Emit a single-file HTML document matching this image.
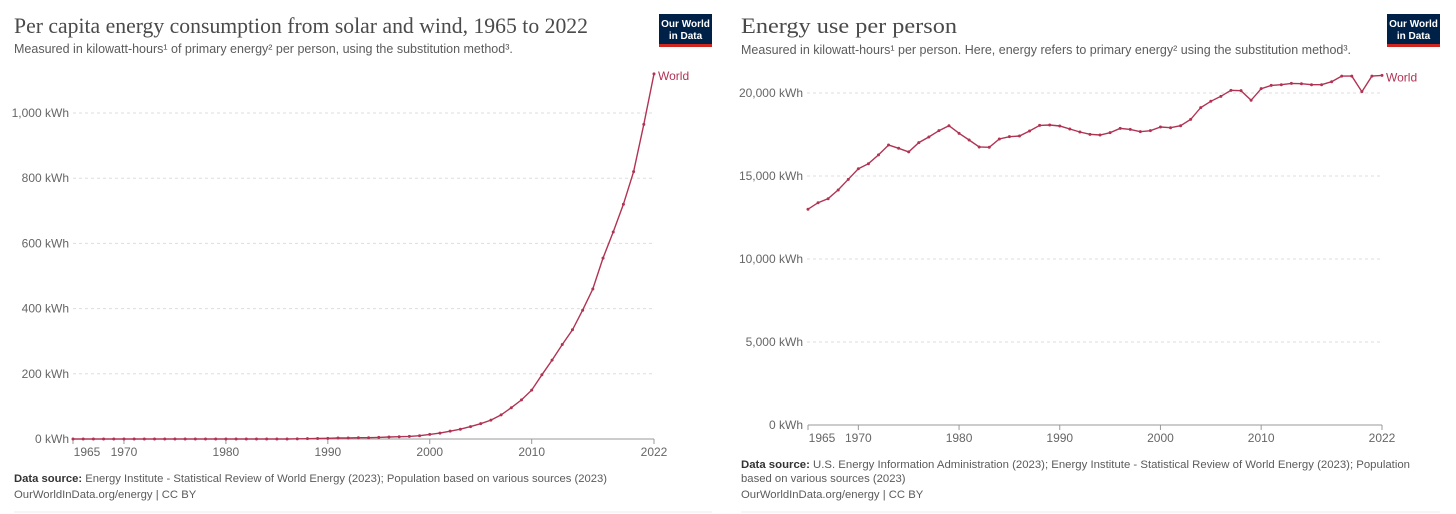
<!DOCTYPE html>
<html><head><meta charset="utf-8"><style>
body{margin:0;background:#fff;width:1456px;height:514px;overflow:hidden}
svg{display:block;font-family:"Liberation Sans",sans-serif}
.t{font-family:"Liberation Serif",serif;font-size:22px;fill:#4a4a4a}
.s{font-size:12.5px;fill:#5b5b5b}
.tk{font-size:12px;fill:#666}
.f{font-size:11.3px;fill:#5b5b5b}
.g{stroke:#ddd;stroke-dasharray:3,3;stroke-width:1}
</style></head><body>
<svg id="c" width="1456" height="514">
<g>
<text class="t" x="14" y="33" textLength="574" lengthAdjust="spacingAndGlyphs">Per capita energy consumption from solar and wind, 1965 to 2022</text>
<text class="s" x="14" y="53">Measured in kilowatt-hours¹ of primary energy² per person, using the substitution method³.</text>
<g><rect x="659" y="14" width="53" height="30" fill="#002147"/><rect x="659" y="44" width="53" height="3" fill="#ce261e"/>
<text x="685.5" y="27" text-anchor="middle" font-size="10" font-weight="bold" fill="#fff">Our World</text><text x="685.5" y="39" text-anchor="middle" font-size="10" font-weight="bold" fill="#fff">in Data</text></g>
<g id="L"></g>
<text class="f" x="14" y="482" textLength="593" lengthAdjust="spacingAndGlyphs"><tspan font-weight="bold" fill="#333">Data source:</tspan> Energy Institute - Statistical Review of World Energy (2023); Population based on various sources (2023)</text>
<text class="f" x="14" y="498">OurWorldInData.org/energy | CC BY</text>
<line x1="14" y1="512" x2="712" y2="512" stroke="#eee"/>
</g>
<g>
<text class="t" x="741" y="33" textLength="216" lengthAdjust="spacingAndGlyphs">Energy use per person</text>
<text class="s" x="741" y="54">Measured in kilowatt-hours¹ per person. Here, energy refers to primary energy² using the substitution method³.</text>
<g><rect x="1387" y="14" width="53" height="30" fill="#002147"/><rect x="1387" y="44" width="53" height="3" fill="#ce261e"/>
<text x="1413.5" y="27" text-anchor="middle" font-size="10" font-weight="bold" fill="#fff">Our World</text><text x="1413.5" y="39" text-anchor="middle" font-size="10" font-weight="bold" fill="#fff">in Data</text></g>
<g id="R"></g>
<text class="f" x="741" y="468" textLength="669" lengthAdjust="spacingAndGlyphs"><tspan font-weight="bold" fill="#333">Data source:</tspan> U.S. Energy Information Administration (2023); Energy Institute - Statistical Review of World Energy (2023); Population</text>
<text class="f" x="741" y="482">based on various sources (2023)</text>
<text class="f" x="741" y="498">OurWorldInData.org/energy | CC BY</text>
<line x1="741" y1="512" x2="1440" y2="512" stroke="#eee"/>
</g>
</svg>
<script>
const years=[];for(let y=1965;y<=2022;y++)years.push(y);
const solarWind=[0,0,0,0,0,0,0,0,0,0,0,0,0,0,0,0,0,0,0,0,0,0,0.5,1,1.5,2,3,3,4,4,5,6,7,8,10,14,18,24,30,38,47,58,74,96,120,150,197,242,290,335,395,460,555,635,720,820,965,1120];
const energyUse=[13000,13390,13630,14160,14800,15440,15740,16270,16870,16670,16450,17010,17350,17730,18030,17570,17170,16750,16730,17230,17370,17410,17710,18050,18070,18010,17830,17650,17510,17470,17610,17870,17810,17670,17730,17950,17910,18030,18410,19120,19500,19800,20160,20140,19560,20260,20460,20500,20580,20560,20500,20500,20680,21020,21020,20080,21020,21060];
const leftTicks=[0,200,400,600,800,1000];
const rightTicks=[0,5000,10000,15000,20000];
const xTicks=[1965,1970,1980,1990,2000,2010,2022];
const NS='http://www.w3.org/2000/svg';
function mk(p,t,a){const e=document.createElementNS(NS,t);for(const k in a)e.setAttribute(k,a[k]);p.appendChild(e);return e;}
function chart(g,vals,ticks,x0,x1,y0,yTop,vTop,labelRight,fmt){
  const xs=y=>x0+(y-1965)*(x1-x0)/57, ys=v=>y0-v*(y0-yTop)/vTop;
  ticks.forEach(t=>{
    if(t>0){const l=mk(g,'line',{x1:labelRight+4,x2:x1,y1:ys(t),y2:ys(t),class:'g'});
    
    }
    const tx=mk(g,'text',{x:labelRight,y:ys(t)+4,'text-anchor':'end',class:'tk'});tx.textContent=fmt(t)+' kWh';
    
    
  });
  const ax=mk(g,'line',{x1:x0,x2:x1,y1:y0,y2:y0,stroke:'#999'});
  
  
  xTicks.forEach((t,i)=>{
    mk(g,'line',{x1:xs(t),x2:xs(t),y1:y0,y2:y0+5,stroke:'#999'});
    const tx=mk(g,'text',{x:xs(t)+(i==0?14:0),y:y0+17,'text-anchor':'middle',class:'tk'});tx.textContent=t;
    
    
  });
  const pts=vals.map((v,i)=>xs(years[i]).toFixed(1)+','+ys(v).toFixed(1)).join(' ');
  const pl=mk(g,'polyline',{points:pts,fill:'none',stroke:'#b13353','stroke-width':1.4});
  
  
  vals.forEach((v,i)=>{const c=mk(g,'circle',{cx:xs(years[i]),cy:ys(v),r:1.5,fill:'#b13353'});
    
    });
  const last=vals[vals.length-1];
  const lb=mk(g,'text',{x:x1+4,y:ys(last)+6,'font-size':12,fill:'#b13353'});lb.textContent='World';
  
  
}
const f=t=>t.toLocaleString('en-US');
chart(document.getElementById('L'),solarWind,leftTicks,73,654,439,113,1000,69,f);
chart(document.getElementById('R'),energyUse,rightTicks,808,1382,425,93,20000,803,f);
</script>
</body></html>
